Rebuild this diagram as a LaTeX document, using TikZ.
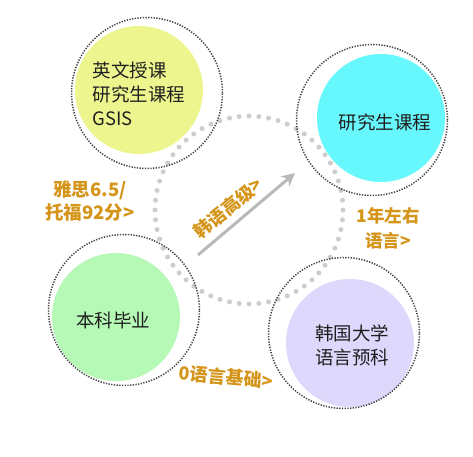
\documentclass[tikz,border=0pt]{standalone}
\usepackage{fontspec}
\setmainfont{Noto Sans CJK SC}
\usetikzlibrary{arrows.meta}
\definecolor{lab}{HTML}{D4951A}
\definecolor{ylw}{HTML}{EDF68E}
\definecolor{cyn}{HTML}{66F8FC}
\definecolor{grn}{HTML}{B6F8B6}
\definecolor{lav}{HTML}{DDD8FC}
\definecolor{ringc}{HTML}{444444}
\definecolor{dotc}{HTML}{CDCDCD}
\tikzset{
  fillc/.style={circle, inner sep=0pt, minimum size=128pt},
  ring/.style={circle, inner sep=0pt, minimum size=151pt, draw=ringc, line width=1.5pt, dash pattern=on 1.3pt off 1.4pt},
  ctext/.style={font=\fontsize{18.5}{24}\selectfont, text=black!88, align=center, inner sep=0pt},
  otext/.style={font=\fontsize{18}{24}\selectfont\bfseries, text=lab, align=center, inner sep=0pt},
}
\begin{document}
\begin{tikzpicture}[x=1pt,y=-1pt]
\useasboundingbox (0,0) rectangle (473,456);
% big gray dotted circle
\foreach \i in {0,...,59}{
  \fill[dotc] ({249+94*cos(\i*6)},{210+94*sin(\i*6)}) circle (2.5pt);
}
% arrow
\coordinate (as) at (198,255);
\coordinate (ae) at (295,173);
\draw[dotc!90!black, line width=3pt, -{Stealth[length=13pt,width=13pt,inset=4pt]}] (as) -- (ae);
% fills
\node[fillc, fill=ylw] (f1) at (139,90) {};
\node[fillc, fill=cyn] (f2) at (381,118) {};
\node[fillc, fill=grn] (f3) at (116,317) {};
\node[fillc, fill=lav] (f4) at (350,343) {};
% rings
\node[ring] (r1) at (147,93) {};
\node[ring] (r2) at (372,120) {};
\node[ring] (r3) at (124,310) {};
\node[ring] (r4) at (344,333) {};
% circle texts
\node[ctext, align=left] (t1) at (139,94) {英文授课\\研究生课程\\GSIS};
\node[ctext] (t2) at (385,122) {研究生课程};
\node[ctext] (t3) at (113,320) {本科毕业};
\node[ctext] (t4) at (352,345) {韩国大学\\语言预科};
% orange labels
\node[otext, font=\fontsize{18.5}{23}\selectfont\bfseries] (l1) at (90,201) {雅思6.5/\\托福92分>};
\node[otext, rotate=40] (l2) at (228,208) {韩语高级>};
\node[otext, font=\fontsize{17.5}{25}\selectfont\bfseries] (l3) at (388,228) {1年左右\\语言>};
\node[otext, rotate=-5] (l4) at (226,377) {0语言基础>};
\end{tikzpicture}
\end{document}
